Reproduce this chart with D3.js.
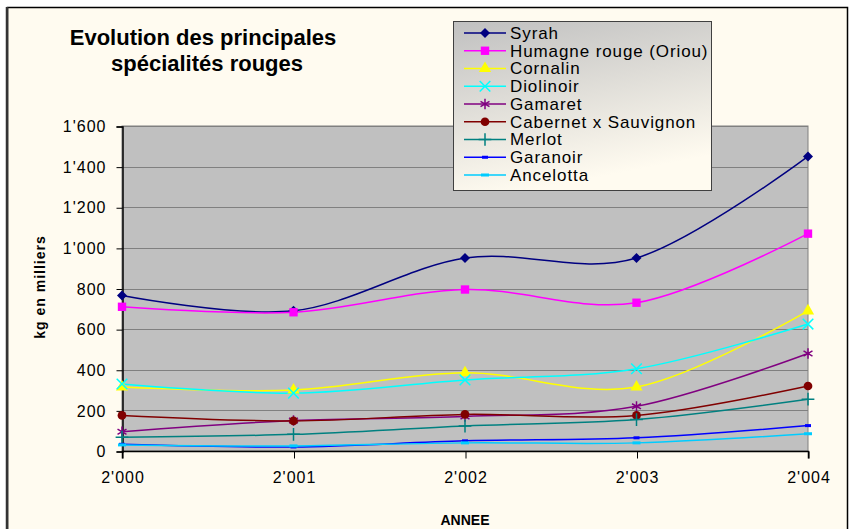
<!DOCTYPE html>
<html>
<head>
<meta charset="utf-8">
<script src="https://cdn.jsdelivr.net/npm/d3@7"></script>
<style>
    body { margin: 0; background: #ffffff; }
    text { font-family: Arial, "Liberation Sans", sans-serif; fill: #000; }
</style>
</head>
<body>
<div id="myDiv"></div>
<script>
const years = ["2'000", "2'001", "2'002", "2'003", "2'004"];
const yTicks = [0, 200, 400, 600, 800, 1000, 1200, 1400, 1600];

const seriesNames = ["Syrah", "Humagne rouge (Oriou)", "Cornalin", "Diolinoir", "Gamaret",
    "Cabernet x Sauvignon", "Merlot", "Garanoir", "Ancelotta"];

const syrah     = [765, 690, 950, 950, 1450];
const humagne   = [710, 683, 795, 730, 1070];
const cornalin  = [315, 300, 385, 315, 690];
const diolinoir = [330, 285, 350, 405, 625];
const gamaret   = [95, 150, 170, 220, 480];
const cabernet  = [175, 148, 180, 175, 320];
const merlot    = [68, 82, 123, 155, 255];
const garanoir  = [33, 20, 50, 65, 125];
const ancelotta = [30, 25, 40, 40, 85];

const seriesValues = [syrah, humagne, cornalin, diolinoir, gamaret, cabernet, merlot, garanoir, ancelotta];

// colour + marker for each series (Excel defaults)
const styles = [
    {color: "#000080", marker: "diamond"},
    {color: "#ff00ff", marker: "square"},
    {color: "#ffff00", marker: "triangle"},
    {color: "#00ffff", marker: "times"},
    {color: "#800080", marker: "asterisk"},
    {color: "#800000", marker: "circle"},
    {color: "#008080", marker: "plus"},
    {color: "#0000ff", marker: "dash"},
    {color: "#00ccff", marker: "longdash"}
];

const width = 856, height = 529;
const plot = {left: 122, right: 808, top: 126, bottom: 451};

const svg = d3.select("#myDiv").append("svg")
    .attr("width", width)
    .attr("height", height);

// chart frame
svg.append("rect")
    .attr("x", 7.5).attr("y", 7.5)
    .attr("width", 840).attr("height", 540)
    .attr("fill", "#fffbf0")
    .attr("stroke", "#000")
    .attr("stroke-width", 1.5);
svg.append("line")
    .attr("x1", 7).attr("x2", 7).attr("y1", 7).attr("y2", height)
    .attr("stroke", "#333").attr("stroke-width", 2.5);

const x = d3.scalePoint().domain(years).range([plot.left, plot.right]);
const y = d3.scaleLinear().domain([0, 1600]).range([plot.bottom, plot.top]);

const fmt = function(v) { return d3.format(",")(v).replace(",", "'"); };

// plot area
svg.append("rect")
    .attr("x", plot.left).attr("y", plot.top)
    .attr("width", plot.right - plot.left).attr("height", plot.bottom - plot.top)
    .attr("fill", "#c0c0c0")
    .attr("stroke", "#808080");

svg.append("g")
    .selectAll("line")
    .data(yTicks.slice(1))
    .enter()
    .append("line")
    .attr("x1", plot.left).attr("x2", plot.right)
    .attr("y1", function(d) { return Math.round(y(d)) + 0.5; })
    .attr("y2", function(d) { return Math.round(y(d)) + 0.5; })
    .attr("stroke", "#808080");

// axes
const yAxis = svg.append("g")
    .attr("transform", "translate(" + (plot.left + 0.5) + ",0.5)")
    .call(d3.axisLeft(y).tickValues(yTicks).tickFormat(fmt).tickSize(6).tickPadding(10));
yAxis.selectAll("text")
    .style("font-size", "16px")
    .style("letter-spacing", "1px")
    .attr("fill", "#000");

const xAxis = svg.append("g")
    .attr("transform", "translate(0.5," + (plot.bottom + 0.5) + ")")
    .call(d3.axisBottom(x).tickSize(7).tickPadding(13));
xAxis.selectAll("text")
    .style("font-size", "16px")
    .style("letter-spacing", "1px")
    .attr("fill", "#000");

[yAxis, xAxis].forEach(function(a) {
    a.select(".domain").attr("stroke", "#000").attr("stroke-width", 1.5);
    a.selectAll(".tick line").attr("stroke", "#000");
    a.selectAll("text").style("font-family", "Arial, 'Liberation Sans', sans-serif");
});
xAxis.select(".domain").attr("d", "M" + plot.left + ",7V0H" + plot.right + "V7");

// marker drawing
function drawMarker(g, type, color) {
    const sym = {
        diamond: d3.symbolSquare, square: d3.symbolSquare, triangle: d3.symbolTriangle,
        times: d3.symbolTimes, asterisk: d3.symbolAsterisk, circle: d3.symbolCircle,
        plus: d3.symbolPlus
    };
    if (type === "dash" || type === "longdash") {
        let w = type === "dash" ? 6 : 8;
        g.append("rect").attr("x", -w / 2).attr("y", -1.5).attr("width", w).attr("height", 3)
            .attr("fill", color);
        return;
    }
    const sizes = {diamond: 50, square: 70, triangle: 65, times: 75, asterisk: 75, circle: 60, plus: 55};
    const path = g.append("path").attr("d", d3.symbol().type(sym[type]).size(sizes[type])());
    if (["times", "asterisk", "plus"].includes(type)) {
        path.attr("fill", "none").attr("stroke", color).attr("stroke-width", 1.5);
    } else {
        path.attr("fill", color);
    }
    if (type === "diamond") path.attr("transform", "rotate(45)");
}

// series lines
const line = d3.line()
    .x(function(d, i) { return x(years[i]); })
    .y(function(d) { return y(d); })
    .curve(d3.curveCatmullRom.alpha(0));

const seriesG = svg.append("g");
seriesValues.forEach(function(vals, s) {
    seriesG.append("path")
        .attr("d", line(vals))
        .attr("fill", "none")
        .attr("stroke", styles[s].color)
        .attr("stroke-width", 1.5);
});
seriesValues.forEach(function(vals, s) {
    vals.forEach(function(v, i) {
        let g = seriesG.append("g").attr("transform", "translate(" + x(years[i]) + "," + y(v) + ")");
        drawMarker(g, styles[s].marker, styles[s].color);
    });
});

// title
const title = svg.append("text")
    .attr("text-anchor", "middle")
    .style("font-size", "22px")
    .style("font-weight", "bold");
title.append("tspan").attr("x", 203).attr("y", 45).text("Evolution des principales");
title.append("tspan").attr("x", 207).attr("y", 71).text("spécialités rouges");

// axis titles
svg.append("text")
    .attr("transform", "translate(45,287) rotate(-90)")
    .attr("text-anchor", "middle")
    .style("font-size", "14px")
    .style("font-weight", "bold")
    .style("letter-spacing", "1px")
    .text("kg en milliers");

svg.append("text")
    .attr("x", 465).attr("y", 525)
    .attr("text-anchor", "middle")
    .style("font-size", "14px")
    .style("font-weight", "bold")
    .text("ANNEE");

// legend
const defs = svg.append("defs");
const grad = defs.append("linearGradient")
    .attr("id", "legGrad")
    .attr("x1", "0").attr("y1", "0").attr("x2", "0.3").attr("y2", "1");
grad.append("stop").attr("offset", "0%").attr("stop-color", "#c0c0c0");
grad.append("stop").attr("offset", "100%").attr("stop-color", "#fffbf0");

svg.append("rect")
    .attr("x", 453.5).attr("y", 21.5)
    .attr("width", 258).attr("height", 169)
    .attr("fill", "url(#legGrad)")
    .attr("stroke", "#404040");

const legend = svg.append("g")
    .selectAll("g")
    .data(seriesNames)
    .enter()
    .append("g")
    .attr("transform", function(d, i) { return "translate(0," + (33 + i * 17.75) + ")"; });

legend.append("line")
    .attr("x1", 464).attr("x2", 506)
    .attr("stroke", function(d, i) { return styles[i].color; })
    .attr("stroke-width", 1.5);
legend.each(function(d, i) {
    let g = d3.select(this).append("g").attr("transform", "translate(485,0)");
    drawMarker(g, styles[i].marker, styles[i].color);
});
legend.append("text")
    .attr("x", 510)
    .attr("dy", "0.35em")
    .style("font-size", "17px")
    .style("letter-spacing", "0.9px")
    .text(function(d) { return d; });
</script>
</body>
</html>
